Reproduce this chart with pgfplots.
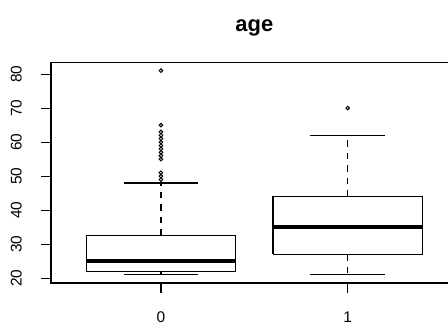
\documentclass[border=0pt]{standalone}
\usepackage{fontspec}
\setmainfont{Liberation Sans}
\usepackage{pgfplots}
\pgfplotsset{compat=1.18}
\begin{document}
\begin{tikzpicture}
\path[use as bounding box] (0bp,0bp) rectangle (448bp,328bp);
\begin{scope}
\clip (0bp,0bp) rectangle (448bp,328bp);
\begin{axis}[
 at={(51bp,45bp)}, anchor=south west,
 scale only axis, width=406.7bp, height=220.5bp,
 xmin=-0.589, xmax=1.589, ymin=18.6, ymax=83.4,
 xtick={0,1}, xticklabels={0,1},
 ytick={20,30,...,80},
 tick align=outside, major tick length=10bp,
 tick style={black, line width=1.1bp},
 xtick pos=bottom, ytick pos=left,
 axis line style={line width=1.1bp},
 /pgf/number format/assume math mode=true,
 ticklabel style={font=\fontsize{15.5}{18}\selectfont},
 yticklabel style={xshift=-19bp, rotate=90, anchor=south, inner sep=0pt},
 xticklabel style={anchor=north, inner sep=0pt, yshift=-19bp},
 title={age},
 title style={font=\fontsize{22}{26}\selectfont\bfseries, at={(0.5,1)}, anchor=base, yshift=25.5bp},
 clip=false,
]
% group 0: box, median, whiskers, caps, outliers
\addplot[black, line width=1.1bp] coordinates {(-0.4,22) (0.4,22) (0.4,32.5) (-0.4,32.5) (-0.4,22)};
\addplot[black, line width=1.1bp, dash pattern=on 6.5bp off 6bp] coordinates {(0,32.5) (0,48)};
\addplot[black, line width=1.1bp, dash pattern=on 6.5bp off 6bp] coordinates {(0,22) (0,21)};
\addplot[black, line width=1.1bp] coordinates {(-0.2,48) (0.2,48)};
\addplot[black, line width=1.1bp] coordinates {(-0.2,21) (0.2,21)};
\addplot[black, line width=4.5bp] coordinates {(-0.4,25) (0.4,25)};
\addplot[black, only marks, mark=o, mark size=1.8bp, mark options={line width=1bp, solid}]
  coordinates {(0,49) (0,50) (0,51) (0,55) (0,56) (0,57) (0,58) (0,59) (0,60) (0,61) (0,62) (0,63) (0,65) (0,81)};
% group 1
\addplot[black, line width=1.1bp] coordinates {(0.6,27) (1.4,27) (1.4,44) (0.6,44) (0.6,27)};
\addplot[black, line width=1.1bp, dash pattern=on 6.5bp off 6bp] coordinates {(1,44) (1,62)};
\addplot[black, line width=1.1bp, dash pattern=on 6.5bp off 6bp] coordinates {(1,27) (1,21)};
\addplot[black, line width=1.1bp] coordinates {(0.8,62) (1.2,62)};
\addplot[black, line width=1.1bp] coordinates {(0.8,21) (1.2,21)};
\addplot[black, line width=4.5bp] coordinates {(0.6,35) (1.4,35)};
\addplot[black, only marks, mark=o, mark size=1.8bp, mark options={line width=1bp, solid}]
  coordinates {(1,70)};
\end{axis}
\end{scope}
\end{tikzpicture}
\end{document}
